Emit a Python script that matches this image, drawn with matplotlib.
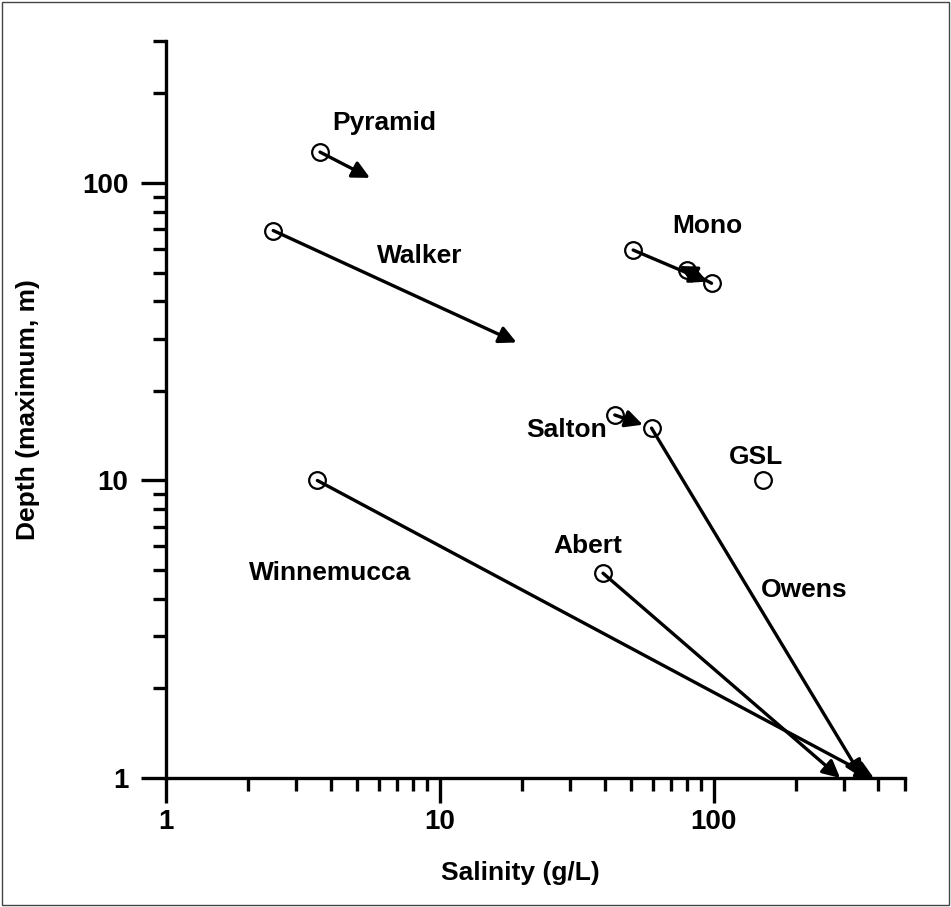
#! /usr/bin/env python3

import matplotlib
matplotlib.use('Agg')
import matplotlib.pyplot as plt
from matplotlib.patches import Rectangle
from matplotlib.ticker import FixedLocator, FuncFormatter

plt.rcParams['font.family'] = ['Liberation Sans', 'DejaVu Sans']
plt.rcParams['font.weight'] = 'bold'

# open circles (salinity g/L, depth m)
circle_x = [3.66, 2.47, 3.58, 50.9, 80.1, 98.4, 43.6, 59.4, 39.5, 151.0]
circle_y = [127.0, 69.2, 10.0, 59.5, 51.0, 46.0, 16.6, 15.0, 4.88, 10.0]

# arrows: start -> end
arrow_x0 = [3.66, 2.47, 3.58, 50.9, 98.4, 43.6, 59.4, 39.5]
arrow_y0 = [127.0, 69.2, 10.0, 59.5, 46.0, 16.6, 15.0, 4.88]
arrow_x1 = [5.57, 19.1, 385.0, 95.0, 75.0, 55.2, 350.0, 290.0]
arrow_y1 = [104.0, 29.1, 1.0, 46.6, 52.6, 15.4, 1.0, 1.0]

lake_names = ['Pyramid', 'Walker', 'Mono', 'Salton', 'GSL', 'Abert',
              'Winnemucca', 'Owens']
label_x = [6.3, 8.47, 95.3, 29.1, 142.6, 34.8, 3.98, 215.0]
label_y = [159.0, 56.8, 71.7, 14.8, 12.0, 6.02, 4.89, 4.28]

fig = plt.figure(figsize=(9.51, 9.07), dpi=100)
fig.patches.append(Rectangle((0.002, 0.002), 0.996, 0.996, transform=fig.transFigure,
                             fill=False, edgecolor='#444444', linewidth=1.0))
ax = fig.add_axes([0.1742, 0.1422, 0.7774, 0.8126])
ax.set_xscale('log')
ax.set_yscale('log')
ax.set_xlim(1, 500)
ax.set_ylim(1, 300)

for x0, y0, x1, y1 in zip(arrow_x0, arrow_y0, arrow_x1, arrow_y1):
    ax.annotate('', xy=(x1, y1), xytext=(x0, y0),
                arrowprops=dict(arrowstyle='-|>', mutation_scale=26, lw=2.4,
                                color='black', shrinkA=0, shrinkB=0),
                annotation_clip=False)

ax.plot(circle_x, circle_y, 'o', markersize=12, markerfacecolor='none',
        markeredgecolor='black', markeredgewidth=1.6, clip_on=False, zorder=5)

for name, x, y in zip(lake_names, label_x, label_y):
    ax.text(x, y, name, ha='center', va='center', fontsize=19, fontweight='bold')

for side in ['top', 'right']:
    ax.spines[side].set_visible(False)
for side in ['left', 'bottom']:
    ax.spines[side].set_linewidth(2.4)

ax.xaxis.set_major_locator(FixedLocator([1, 10, 100]))
ax.yaxis.set_major_locator(FixedLocator([1, 10, 100]))
ax.xaxis.set_minor_locator(FixedLocator([2, 3, 4, 5, 6, 7, 8, 9, 20, 30, 40, 50, 60, 70, 80, 90,
                                         200, 300, 400, 500]))
ax.yaxis.set_minor_locator(FixedLocator([2, 3, 4, 5, 6, 7, 8, 9, 20, 30, 40, 50, 60, 70, 80, 90,
                                         200, 300]))
fmt = FuncFormatter(lambda v, p: f'{v:g}')
ax.xaxis.set_major_formatter(fmt)
ax.yaxis.set_major_formatter(fmt)
ax.xaxis.set_minor_formatter(FuncFormatter(lambda v, p: ''))
ax.yaxis.set_minor_formatter(FuncFormatter(lambda v, p: ''))
ax.tick_params(which='major', direction='out', length=18, width=2.4, labelsize=20)
ax.tick_params(axis='x', which='major', pad=4)
ax.tick_params(axis='y', which='major', pad=9)
ax.tick_params(which='minor', direction='out', length=9.5, width=2.4)
for lab in ax.get_xticklabels() + ax.get_yticklabels():
    lab.set_fontweight('bold')

ax.set_xlabel('Salinity (g/L)', fontsize=19, fontweight='bold')
ax.set_ylabel('Depth (maximum, m)', fontsize=19, fontweight='bold')
ax.xaxis.set_label_coords(0.48, -0.112)
ax.yaxis.set_label_coords(-0.170, 0.5)

plt.savefig('out.png', dpi=100)
